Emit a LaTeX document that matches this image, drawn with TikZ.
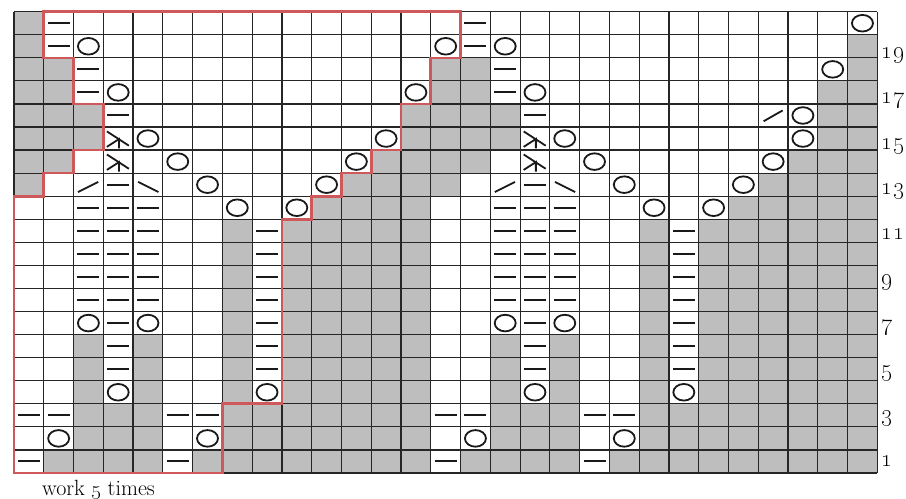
\documentclass[tikz,border=0pt]{standalone}
\definecolor{cellgrey}{RGB}{190,190,190}
\definecolor{redline}{RGB}{206,88,90}
\begin{document}
\begin{tikzpicture}[x=29.77pt,y=23.065pt,
  gridln/.style={line width=1.2pt,draw=black!85},
  greycell/.style={fill=cellgrey},
  sym/.style={line width=1.8pt,draw=black!90},
  outline/.style={draw=redline,line width=2.6pt,line join=miter},
  numlabel/.style={anchor=base west,font=\fontsize{23}{27}\selectfont,inner sep=0pt},
  notelabel/.style={anchor=base west,font=\fontsize{22}{26}\selectfont,inner sep=0pt}]
\useasboundingbox (-0.4703,-1.1273) rectangle (29.963,20.507);
% grey cells
\foreach \r/\cols in {
  20/{1},
  19/{1,29},
  18/{1,2,15,16,29},
  17/{1,2,15,16,28,29},
  16/{1,2,3,14,15,16,17,28,29},
  15/{1,2,3,14,15,16,17,28,29},
  14/{1,2,13,14,15,16,27,28,29},
  13/{1,12,13,14,15,26,27,28,29},
  12/{11,12,13,14,25,26,27,28,29},
  11/{8,10,11,12,13,14,22,24,25,26,27,28,29},
  10/{8,10,11,12,13,14,22,24,25,26,27,28,29},
  9/{8,10,11,12,13,14,22,24,25,26,27,28,29},
  8/{8,10,11,12,13,14,22,24,25,26,27,28,29},
  7/{8,10,11,12,13,14,22,24,25,26,27,28,29},
  6/{3,5,8,10,11,12,13,14,17,19,22,24,25,26,27,28,29},
  5/{3,5,8,10,11,12,13,14,17,19,22,24,25,26,27,28,29},
  4/{3,5,8,10,11,12,13,14,17,19,22,24,25,26,27,28,29},
  3/{3,4,5,8,9,10,11,12,13,14,17,18,19,22,23,24,25,26,27,28,29},
  2/{3,4,5,8,9,10,11,12,13,14,17,18,19,22,23,24,25,26,27,28,29},
  1/{2,3,4,5,7,8,9,10,11,12,13,14,16,17,18,19,21,22,23,24,25,26,27,28,29}}
{\foreach \c in \cols {\fill[greycell] (\c-1,\r-1) rectangle (\c,\r);}}
% grid
\foreach \i in {0,...,29} {\draw[gridln] (\i,0) -- (\i,20);}
\foreach \j in {0,...,20} {\draw[gridln] (0,\j) -- (29,\j);}
% dashes
\foreach \r/\cols in {
  20/{2,16}, 19/{2,16}, 18/{3,17}, 17/{3,17}, 16/{4,18}, 13/{4,18},
  12/{3,4,5,17,18,19},
  11/{3,4,5,9,17,18,19,23}, 10/{3,4,5,9,17,18,19,23},
  9/{3,4,5,9,17,18,19,23}, 8/{3,4,5,9,17,18,19,23},
  7/{4,9,18,23}, 6/{4,9,18,23}, 5/{4,9,18,23},
  3/{1,2,6,7,15,16,20,21}, 1/{1,6,15,20}}
{\foreach \c in \cols {\draw[sym,line width=2pt] (\c-0.87,\r-0.5) -- (\c-0.13,\r-0.5);}}
% yarn-overs
\foreach \r/\cols in {
  20/{29}, 19/{3,15,17}, 18/{28}, 17/{4,14,18}, 16/{27},
  15/{5,13,19,27}, 14/{6,12,20,26}, 13/{7,11,21,25}, 12/{8,10,22,24},
  7/{3,5,17,19}, 4/{4,9,18,23}, 2/{2,7,16,21}}
{\foreach \c in \cols {\draw[sym] (\c-0.5,\r-0.5) ellipse [x radius=10.5pt,y radius=8.3pt];}}
% decreases
\foreach \c in {3,17} {\draw[sym] (\c-0.85,12.18) -- (\c-0.17,12.62);}
\foreach \c in {5,19} {\draw[sym] (\c-0.83,12.62) -- (\c-0.15,12.18);}
\draw[sym] (26-0.82,15.25) -- (26-0.18,15.72);
\foreach \r in {14,15} {\foreach \c in {4,18} {
  \draw[sym] (\c-0.88,\r-0.19) -- (\c-0.14,\r-0.81);
  \draw[sym] (\c-0.88,\r-0.86) -- (\c-0.47,\r-0.52) -- (\c-0.47,\r-0.93);}}
% repeat outline
\draw[outline] (1,20) -- (15,20) -- (15,18) -- (14,18) -- (14,16) -- (13,16)
  -- (13,14) -- (12,14) -- (12,13) -- (11,13) -- (11,12) -- (10,12) -- (10,11)
  -- (9,11) -- (9,3) -- (7,3) -- (7,0) -- (0,0) -- (0,12) -- (1,12) -- (1,13)
  -- (2,13) -- (2,14) -- (3,14) -- (3,16) -- (2,16) -- (2,18) -- (1,18) -- cycle;
% row numbers
\foreach \r in {1,3,...,19} {
  \pgfmathsetmacro\yy{((\r-1)*22.7+6)/23.065}
  \node[numlabel] (lab\r) at (29.14,\yy) {\oldstylenums{\r}};}
\node[notelabel] (note) at (0.94,-0.997) {work \oldstylenums{5} times};
\end{tikzpicture}
\end{document}
